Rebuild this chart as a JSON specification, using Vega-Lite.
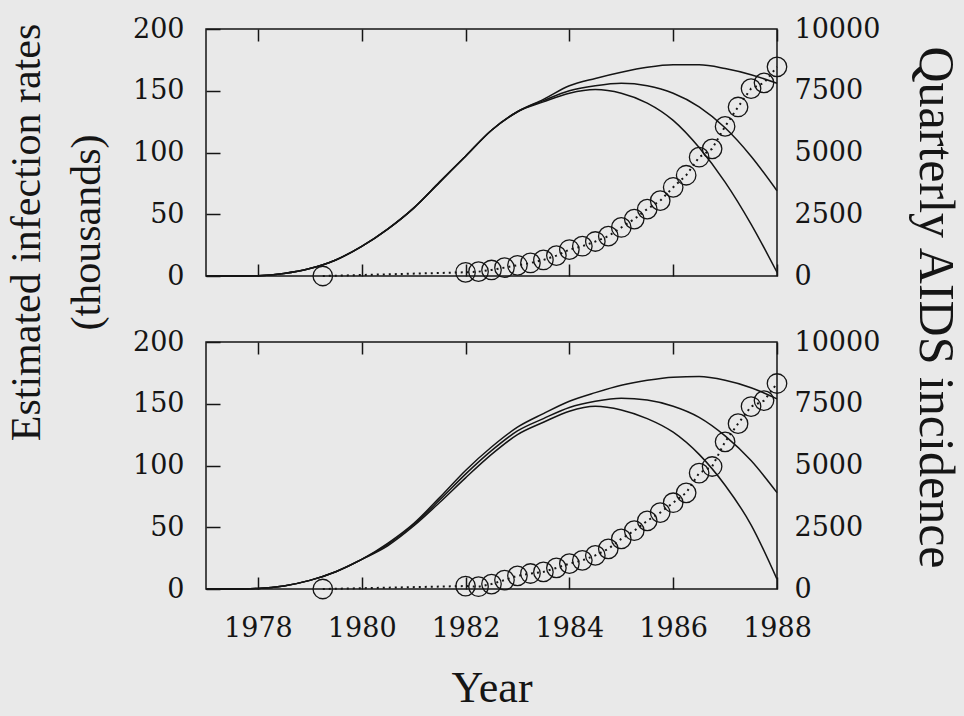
{
  "$schema": "https://vega.github.io/schema/vega-lite/v6.json",
  "background": "#e9e9e9",
  "padding": {"left": 4, "top": 14, "right": 3, "bottom": 5},
  "spacing": 66,
  "bounds": "flush",
  "datasets": {
    "curves": [
      {"panel": "top", "curve": "A", "year": 1977, "value": 0},
      {"panel": "top", "curve": "A", "year": 1977.5, "value": 0},
      {"panel": "top", "curve": "A", "year": 1978, "value": 0.3},
      {"panel": "top", "curve": "A", "year": 1978.5, "value": 2},
      {"panel": "top", "curve": "A", "year": 1979, "value": 6},
      {"panel": "top", "curve": "A", "year": 1979.5, "value": 13},
      {"panel": "top", "curve": "A", "year": 1980, "value": 24},
      {"panel": "top", "curve": "A", "year": 1980.5, "value": 38},
      {"panel": "top", "curve": "A", "year": 1981, "value": 55},
      {"panel": "top", "curve": "A", "year": 1981.5, "value": 76},
      {"panel": "top", "curve": "A", "year": 1982, "value": 97},
      {"panel": "top", "curve": "A", "year": 1982.5, "value": 118},
      {"panel": "top", "curve": "A", "year": 1983, "value": 133},
      {"panel": "top", "curve": "A", "year": 1983.5, "value": 143},
      {"panel": "top", "curve": "A", "year": 1984, "value": 154},
      {"panel": "top", "curve": "A", "year": 1984.5, "value": 160},
      {"panel": "top", "curve": "A", "year": 1985, "value": 165},
      {"panel": "top", "curve": "A", "year": 1985.5, "value": 169},
      {"panel": "top", "curve": "A", "year": 1986, "value": 171},
      {"panel": "top", "curve": "A", "year": 1986.5, "value": 171},
      {"panel": "top", "curve": "A", "year": 1987, "value": 168},
      {"panel": "top", "curve": "A", "year": 1987.5, "value": 163},
      {"panel": "top", "curve": "A", "year": 1988, "value": 156},
      {"panel": "top", "curve": "B", "year": 1977, "value": 0},
      {"panel": "top", "curve": "B", "year": 1977.5, "value": 0},
      {"panel": "top", "curve": "B", "year": 1978, "value": 0.3},
      {"panel": "top", "curve": "B", "year": 1978.5, "value": 2},
      {"panel": "top", "curve": "B", "year": 1979, "value": 6},
      {"panel": "top", "curve": "B", "year": 1979.5, "value": 13},
      {"panel": "top", "curve": "B", "year": 1980, "value": 24},
      {"panel": "top", "curve": "B", "year": 1980.5, "value": 38},
      {"panel": "top", "curve": "B", "year": 1981, "value": 55},
      {"panel": "top", "curve": "B", "year": 1981.5, "value": 76},
      {"panel": "top", "curve": "B", "year": 1982, "value": 97},
      {"panel": "top", "curve": "B", "year": 1982.5, "value": 118},
      {"panel": "top", "curve": "B", "year": 1983, "value": 133},
      {"panel": "top", "curve": "B", "year": 1983.5, "value": 142},
      {"panel": "top", "curve": "B", "year": 1984, "value": 150},
      {"panel": "top", "curve": "B", "year": 1984.5, "value": 154},
      {"panel": "top", "curve": "B", "year": 1985, "value": 156},
      {"panel": "top", "curve": "B", "year": 1985.5, "value": 154},
      {"panel": "top", "curve": "B", "year": 1986, "value": 148},
      {"panel": "top", "curve": "B", "year": 1986.5, "value": 137},
      {"panel": "top", "curve": "B", "year": 1987, "value": 120},
      {"panel": "top", "curve": "B", "year": 1987.5, "value": 97},
      {"panel": "top", "curve": "B", "year": 1988, "value": 69},
      {"panel": "top", "curve": "C", "year": 1977, "value": 0},
      {"panel": "top", "curve": "C", "year": 1977.5, "value": 0},
      {"panel": "top", "curve": "C", "year": 1978, "value": 0.3},
      {"panel": "top", "curve": "C", "year": 1978.5, "value": 2},
      {"panel": "top", "curve": "C", "year": 1979, "value": 6},
      {"panel": "top", "curve": "C", "year": 1979.5, "value": 13},
      {"panel": "top", "curve": "C", "year": 1980, "value": 24},
      {"panel": "top", "curve": "C", "year": 1980.5, "value": 38},
      {"panel": "top", "curve": "C", "year": 1981, "value": 55},
      {"panel": "top", "curve": "C", "year": 1981.5, "value": 76},
      {"panel": "top", "curve": "C", "year": 1982, "value": 97},
      {"panel": "top", "curve": "C", "year": 1982.5, "value": 118},
      {"panel": "top", "curve": "C", "year": 1983, "value": 133},
      {"panel": "top", "curve": "C", "year": 1983.5, "value": 141},
      {"panel": "top", "curve": "C", "year": 1984, "value": 148},
      {"panel": "top", "curve": "C", "year": 1984.5, "value": 151},
      {"panel": "top", "curve": "C", "year": 1985, "value": 148},
      {"panel": "top", "curve": "C", "year": 1985.5, "value": 140},
      {"panel": "top", "curve": "C", "year": 1986, "value": 126},
      {"panel": "top", "curve": "C", "year": 1986.5, "value": 104},
      {"panel": "top", "curve": "C", "year": 1987, "value": 76},
      {"panel": "top", "curve": "C", "year": 1987.5, "value": 42},
      {"panel": "top", "curve": "C", "year": 1988, "value": 3},
      {"panel": "bottom", "curve": "A", "year": 1977, "value": 0},
      {"panel": "bottom", "curve": "A", "year": 1977.5, "value": 0},
      {"panel": "bottom", "curve": "A", "year": 1978, "value": 0.5},
      {"panel": "bottom", "curve": "A", "year": 1978.5, "value": 2.5},
      {"panel": "bottom", "curve": "A", "year": 1979, "value": 7},
      {"panel": "bottom", "curve": "A", "year": 1979.5, "value": 14},
      {"panel": "bottom", "curve": "A", "year": 1980, "value": 24},
      {"panel": "bottom", "curve": "A", "year": 1980.5, "value": 37},
      {"panel": "bottom", "curve": "A", "year": 1981, "value": 53},
      {"panel": "bottom", "curve": "A", "year": 1981.5, "value": 74},
      {"panel": "bottom", "curve": "A", "year": 1982, "value": 96},
      {"panel": "bottom", "curve": "A", "year": 1982.5, "value": 115},
      {"panel": "bottom", "curve": "A", "year": 1983, "value": 131},
      {"panel": "bottom", "curve": "A", "year": 1983.5, "value": 142},
      {"panel": "bottom", "curve": "A", "year": 1984, "value": 152},
      {"panel": "bottom", "curve": "A", "year": 1984.5, "value": 159},
      {"panel": "bottom", "curve": "A", "year": 1985, "value": 165},
      {"panel": "bottom", "curve": "A", "year": 1985.5, "value": 169},
      {"panel": "bottom", "curve": "A", "year": 1986, "value": 171.5},
      {"panel": "bottom", "curve": "A", "year": 1986.5, "value": 172},
      {"panel": "bottom", "curve": "A", "year": 1987, "value": 169},
      {"panel": "bottom", "curve": "A", "year": 1987.5, "value": 163},
      {"panel": "bottom", "curve": "A", "year": 1988, "value": 154},
      {"panel": "bottom", "curve": "B", "year": 1977, "value": 0},
      {"panel": "bottom", "curve": "B", "year": 1977.5, "value": 0},
      {"panel": "bottom", "curve": "B", "year": 1978, "value": 0.5},
      {"panel": "bottom", "curve": "B", "year": 1978.5, "value": 2.5},
      {"panel": "bottom", "curve": "B", "year": 1979, "value": 7},
      {"panel": "bottom", "curve": "B", "year": 1979.5, "value": 14},
      {"panel": "bottom", "curve": "B", "year": 1980, "value": 24},
      {"panel": "bottom", "curve": "B", "year": 1980.5, "value": 36},
      {"panel": "bottom", "curve": "B", "year": 1981, "value": 52},
      {"panel": "bottom", "curve": "B", "year": 1981.5, "value": 72},
      {"panel": "bottom", "curve": "B", "year": 1982, "value": 93},
      {"panel": "bottom", "curve": "B", "year": 1982.5, "value": 112},
      {"panel": "bottom", "curve": "B", "year": 1983, "value": 128},
      {"panel": "bottom", "curve": "B", "year": 1983.5, "value": 138},
      {"panel": "bottom", "curve": "B", "year": 1984, "value": 147},
      {"panel": "bottom", "curve": "B", "year": 1984.5, "value": 152},
      {"panel": "bottom", "curve": "B", "year": 1985, "value": 154.5},
      {"panel": "bottom", "curve": "B", "year": 1985.5, "value": 153},
      {"panel": "bottom", "curve": "B", "year": 1986, "value": 148},
      {"panel": "bottom", "curve": "B", "year": 1986.5, "value": 139},
      {"panel": "bottom", "curve": "B", "year": 1987, "value": 124},
      {"panel": "bottom", "curve": "B", "year": 1987.5, "value": 104},
      {"panel": "bottom", "curve": "B", "year": 1988, "value": 78},
      {"panel": "bottom", "curve": "C", "year": 1977, "value": 0},
      {"panel": "bottom", "curve": "C", "year": 1977.5, "value": 0},
      {"panel": "bottom", "curve": "C", "year": 1978, "value": 0.5},
      {"panel": "bottom", "curve": "C", "year": 1978.5, "value": 2.5},
      {"panel": "bottom", "curve": "C", "year": 1979, "value": 7},
      {"panel": "bottom", "curve": "C", "year": 1979.5, "value": 14},
      {"panel": "bottom", "curve": "C", "year": 1980, "value": 24},
      {"panel": "bottom", "curve": "C", "year": 1980.5, "value": 35},
      {"panel": "bottom", "curve": "C", "year": 1981, "value": 51},
      {"panel": "bottom", "curve": "C", "year": 1981.5, "value": 70},
      {"panel": "bottom", "curve": "C", "year": 1982, "value": 90},
      {"panel": "bottom", "curve": "C", "year": 1982.5, "value": 109},
      {"panel": "bottom", "curve": "C", "year": 1983, "value": 125},
      {"panel": "bottom", "curve": "C", "year": 1983.5, "value": 135},
      {"panel": "bottom", "curve": "C", "year": 1984, "value": 144},
      {"panel": "bottom", "curve": "C", "year": 1984.5, "value": 148},
      {"panel": "bottom", "curve": "C", "year": 1985, "value": 145},
      {"panel": "bottom", "curve": "C", "year": 1985.5, "value": 138},
      {"panel": "bottom", "curve": "C", "year": 1986, "value": 127},
      {"panel": "bottom", "curve": "C", "year": 1986.5, "value": 109},
      {"panel": "bottom", "curve": "C", "year": 1987, "value": 84},
      {"panel": "bottom", "curve": "C", "year": 1987.5, "value": 52},
      {"panel": "bottom", "curve": "C", "year": 1988, "value": 8}
    ],
    "aids": [
      {"panel": "top", "year": 1979.25, "cases": 0},
      {"panel": "top", "year": 1982, "cases": 150},
      {"panel": "top", "year": 1982.25, "cases": 176},
      {"panel": "top", "year": 1982.5, "cases": 244},
      {"panel": "top", "year": 1982.75, "cases": 339},
      {"panel": "top", "year": 1983, "cases": 434},
      {"panel": "top", "year": 1983.25, "cases": 528},
      {"panel": "top", "year": 1983.5, "cases": 650},
      {"panel": "top", "year": 1983.75, "cases": 827},
      {"panel": "top", "year": 1984, "cases": 1071},
      {"panel": "top", "year": 1984.25, "cases": 1206},
      {"panel": "top", "year": 1984.5, "cases": 1396},
      {"panel": "top", "year": 1984.75, "cases": 1613},
      {"panel": "top", "year": 1985, "cases": 1965},
      {"panel": "top", "year": 1985.25, "cases": 2304},
      {"panel": "top", "year": 1985.5, "cases": 2710},
      {"panel": "top", "year": 1985.75, "cases": 3049},
      {"panel": "top", "year": 1986, "cases": 3591},
      {"panel": "top", "year": 1986.25, "cases": 4079},
      {"panel": "top", "year": 1986.5, "cases": 4810},
      {"panel": "top", "year": 1986.75, "cases": 5149},
      {"panel": "top", "year": 1987, "cases": 6057},
      {"panel": "top", "year": 1987.25, "cases": 6843},
      {"panel": "top", "year": 1987.5, "cases": 7588},
      {"panel": "top", "year": 1987.75, "cases": 7819},
      {"panel": "top", "year": 1988, "cases": 8469},
      {"panel": "bottom", "year": 1979.25, "cases": 0},
      {"panel": "bottom", "year": 1982, "cases": 120},
      {"panel": "bottom", "year": 1982.25, "cases": 93},
      {"panel": "bottom", "year": 1982.5, "cases": 200},
      {"panel": "bottom", "year": 1982.75, "cases": 360},
      {"panel": "bottom", "year": 1983, "cases": 533},
      {"panel": "bottom", "year": 1983.25, "cases": 627},
      {"panel": "bottom", "year": 1983.5, "cases": 693},
      {"panel": "bottom", "year": 1983.75, "cases": 853},
      {"panel": "bottom", "year": 1984, "cases": 1027},
      {"panel": "bottom", "year": 1984.25, "cases": 1160},
      {"panel": "bottom", "year": 1984.5, "cases": 1360},
      {"panel": "bottom", "year": 1984.75, "cases": 1627},
      {"panel": "bottom", "year": 1985, "cases": 2027},
      {"panel": "bottom", "year": 1985.25, "cases": 2360},
      {"panel": "bottom", "year": 1985.5, "cases": 2760},
      {"panel": "bottom", "year": 1985.75, "cases": 3093},
      {"panel": "bottom", "year": 1986, "cases": 3493},
      {"panel": "bottom", "year": 1986.25, "cases": 3893},
      {"panel": "bottom", "year": 1986.5, "cases": 4693},
      {"panel": "bottom", "year": 1986.75, "cases": 4960},
      {"panel": "bottom", "year": 1987, "cases": 5960},
      {"panel": "bottom", "year": 1987.25, "cases": 6693},
      {"panel": "bottom", "year": 1987.5, "cases": 7387},
      {"panel": "bottom", "year": 1987.75, "cases": 7627},
      {"panel": "bottom", "year": 1988, "cases": 8320}
    ]
  },
  "vconcat": [
    {
      "width": 571,
      "height": 247,
      "layer": [
        {
          "data": {"name": "curves"},
          "transform": [{"filter": "datum.panel == 'top'"}],
          "mark": {"type": "line", "interpolate": "monotone", "color": "#151515", "strokeWidth": 1.5},
          "encoding": {
            "x": {"field": "year", "type": "quantitative", "scale": {"domain": [1977, 1988], "nice": false, "zero": false},
                  "axis": {"orient": "bottom", "values": [1978, 1980, 1982, 1984, 1986, 1988], "labels": false, "title": null, "tickSize": -12}},
            "y": {"field": "value", "type": "quantitative", "scale": {"domain": [0, 200], "nice": false},
                  "axis": {"orient": "left", "values": [0, 50, 100, 150, 200], "tickSize": -14, "labelPadding": 36,
                           "title": ["Estimated infection rates", "(thousands)"], "titleFontSize": 42, "titleLineHeight": 60,
                           "titleY": 203, "titlePadding": 24}},
            "detail": {"field": "curve"}
          }
        },
        {
          "data": {"name": "aids"},
          "transform": [{"filter": "datum.panel == 'top'"}],
          "encoding": {
            "x": {"field": "year", "type": "quantitative", "scale": {"domain": [1977, 1988], "nice": false, "zero": false},
                  "axis": {"orient": "top", "values": [1978, 1980, 1982, 1984, 1986, 1988], "labels": false, "title": null, "tickSize": -12}},
            "y": {"field": "cases", "type": "quantitative", "scale": {"domain": [0, 10000], "nice": false},
                  "axis": {"orient": "right", "values": [0, 2500, 5000, 7500, 10000], "format": "d", "ticks": false, "labelPadding": 17,
                           "title": "Quarterly AIDS incidence", "titleFontSize": 50, "titleY": 278, "titlePadding": 30}}
          },
          "layer": [
            {"mark": {"type": "line", "color": "#151515", "strokeWidth": 2, "strokeDash": [2, 4]}},
            {"mark": {"type": "point", "shape": "circle", "filled": false, "size": 380, "stroke": "#151515", "strokeWidth": 1.3, "opacity": 1}}
          ]
        }
      ],
      "resolve": {"scale": {"y": "independent"}, "axis": {"x": "independent"}}
    },
    {
      "width": 571,
      "height": 247,
      "layer": [
        {
          "data": {"name": "curves"},
          "transform": [{"filter": "datum.panel == 'bottom'"}],
          "mark": {"type": "line", "interpolate": "monotone", "color": "#151515", "strokeWidth": 1.5},
          "encoding": {
            "x": {"field": "year", "type": "quantitative", "scale": {"domain": [1977, 1988], "nice": false, "zero": false},
                  "axis": {"orient": "bottom", "values": [1978, 1980, 1982, 1984, 1986, 1988], "format": "d", "tickSize": -12, "labelPadding": 38,
                           "title": "Year", "titleFontSize": 44, "titlePadding": 25}},
            "y": {"field": "value", "type": "quantitative", "scale": {"domain": [0, 200], "nice": false},
                  "axis": {"orient": "left", "values": [0, 50, 100, 150, 200], "tickSize": -14, "labelPadding": 36, "title": null}},
            "detail": {"field": "curve"}
          }
        },
        {
          "data": {"name": "aids"},
          "transform": [{"filter": "datum.panel == 'bottom'"}],
          "encoding": {
            "x": {"field": "year", "type": "quantitative", "scale": {"domain": [1977, 1988], "nice": false, "zero": false},
                  "axis": {"orient": "top", "values": [1978, 1980, 1982, 1984, 1986, 1988], "labels": false, "title": null, "tickSize": -12}},
            "y": {"field": "cases", "type": "quantitative", "scale": {"domain": [0, 10000], "nice": false},
                  "axis": {"orient": "right", "values": [0, 2500, 5000, 7500, 10000], "format": "d", "ticks": false, "labelPadding": 17, "title": null}}
          },
          "layer": [
            {"mark": {"type": "line", "color": "#151515", "strokeWidth": 2, "strokeDash": [2, 4]}},
            {"mark": {"type": "point", "shape": "circle", "filled": false, "size": 380, "stroke": "#151515", "strokeWidth": 1.3, "opacity": 1}}
          ]
        }
      ],
      "resolve": {"scale": {"y": "independent"}, "axis": {"x": "independent"}}
    }
  ],
  "config": {
    "view": {"stroke": "#151515", "strokeWidth": 1.5},
    "axis": {"domain": false, "grid": false, "labelFlush": false, "labelOverlap": false, "labelFont": "DejaVu Serif", "labelFontSize": 27, "labelColor": "#151515",
             "tickColor": "#151515", "tickWidth": 1.5, "titleFont": "Liberation Serif", "titleFontWeight": "normal", "titleColor": "#151515"}
  }
}
